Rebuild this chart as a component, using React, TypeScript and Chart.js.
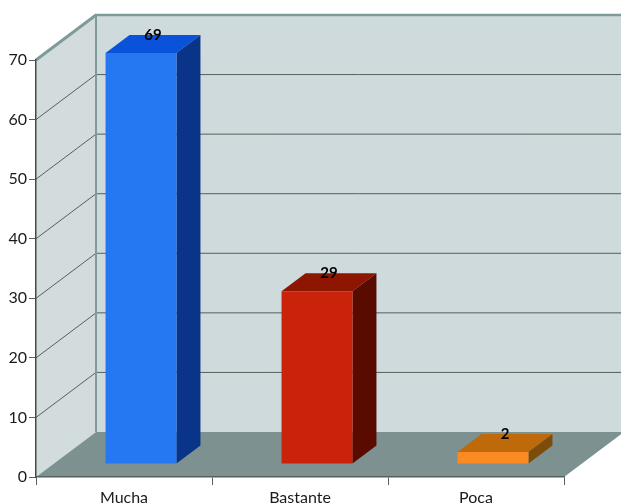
import React, { useEffect, useRef } from "react";
import { Chart, registerables } from "chart.js";

Chart.register(...registerables);

const categories = ["Mucha", "Bastante", "Poca"];
const values = [69, 29, 2];
const frontColors = ["#2577f2", "#c9230b", "#fb8a22"];
const topColors = ["#0a52da", "#8e1600", "#bf6a0a"];
const sideColors = ["#0a3488", "#5a0b00", "#7c4c08"];
const yTicks = [0, 10, 20, 30, 40, 50, 60, 70];

// Projection of the box: how far the back wall and the bars are pushed by depth.
const WALL_DX = 60;
const WALL_DY = 45;
const BAR_SHIFT_X = 17;
const BAR_SHIFT_Y = 13;
const BAR_DX = 24;
const BAR_DY = 18;

const WALL = "#cfdadc";
const SIDE_WALL = "#d3dcdc";
const FLOOR = "#7d9190";
const EDGE = "#7f9b99";
const GRID = "#555f5e";

function poly(ctx: CanvasRenderingContext2D, pts: number[][], fill: string) {
  ctx.beginPath();
  pts.forEach(([x, y], i) => (i ? ctx.lineTo(x, y) : ctx.moveTo(x, y)));
  ctx.closePath();
  ctx.fillStyle = fill;
  ctx.fill();
}

function line(ctx: CanvasRenderingContext2D, x0: number, y0: number, x1: number, y1: number, color: string, w: number) {
  ctx.beginPath();
  ctx.moveTo(x0, y0);
  ctx.lineTo(x1, y1);
  ctx.strokeStyle = color;
  ctx.lineWidth = w;
  ctx.stroke();
}

const box3d = {
  id: "box3d",
  // Side wall, back wall and floor, sitting behind the axes.
  beforeDraw(chart: any) {
    const { ctx, width, chartArea: a, scales } = chart;
    const y = scales.y;
    const y0 = y.getPixelForValue(0);
    const yMax = y.getPixelForValue(70);
    const bx = a.left + WALL_DX;
    ctx.save();
    poly(ctx, [[a.left, yMax], [bx, yMax - WALL_DY], [bx, y0 - WALL_DY], [a.left, y0]], SIDE_WALL);
    poly(ctx, [[bx, yMax - WALL_DY], [width, yMax - WALL_DY], [width, y0 - WALL_DY], [bx, y0 - WALL_DY]], WALL);
    poly(ctx, [[a.left, y0], [a.right, y0], [a.right + WALL_DX, y0 - WALL_DY], [bx, y0 - WALL_DY]], FLOOR);
    for (const v of yTicks) {
      if (v === 0 || v === 70) continue;
      const p = y.getPixelForValue(v);
      line(ctx, a.left, p, bx, p - WALL_DY, GRID, 1);
      line(ctx, bx, p - WALL_DY, width, p - WALL_DY, GRID, 1);
    }
    line(ctx, a.left, yMax, bx, yMax - WALL_DY, EDGE, 3);
    line(ctx, bx - 1, yMax - WALL_DY, width, yMax - WALL_DY, EDGE, 2.5);
    line(ctx, bx, yMax - WALL_DY, bx, y0 - WALL_DY, EDGE, 2);
    ctx.restore();
  },
  // Top and side faces of each bar; the front face is the library's own bar, moved into the box.
  beforeDatasetDraw(chart: any, args: any) {
    const { ctx } = chart;
    ctx.save();
    ctx.translate(BAR_SHIFT_X, -BAR_SHIFT_Y);
    args.meta.data.forEach((bar: any, i: number) => {
      const l = bar.x - bar.width / 2;
      const r = bar.x + bar.width / 2;
      poly(ctx, [[l, bar.y], [l + BAR_DX, bar.y - BAR_DY], [r + BAR_DX, bar.y - BAR_DY], [r, bar.y]], topColors[i]);
      poly(ctx, [[r, bar.y], [r + BAR_DX, bar.y - BAR_DY], [r + BAR_DX, bar.base - BAR_DY], [r, bar.base]], sideColors[i]);
    });
  },
  afterDatasetDraw(chart: any) {
    chart.ctx.restore();
  },
  afterDatasetsDraw(chart: any) {
    const { ctx } = chart;
    const meta = chart.getDatasetMeta(0);
    ctx.save();
    ctx.font = "bold 15px Lato";
    ctx.fillStyle = "#000";
    ctx.textAlign = "center";
    ctx.textBaseline = "middle";
    meta.data.forEach((bar: any, i: number) => {
      ctx.fillText(String(values[i]), bar.x + BAR_SHIFT_X + BAR_DX / 2, bar.y - BAR_SHIFT_Y - BAR_DY);
    });
    ctx.restore();
  },
};

export default function App() {
  const ref = useRef<HTMLCanvasElement>(null);

  useEffect(() => {
    document.body.style.margin = "0";
    const chart = new Chart(ref.current!, {
      type: "bar",
      data: {
        labels: categories,
        datasets: [
          {
            data: values,
            backgroundColor: frontColors,
            borderWidth: 0,
            categoryPercentage: 1,
            barPercentage: 0.403,
            clip: false,
          } as any,
        ],
      },
      options: {
        responsive: false,
        animation: false,
        layout: { padding: { top: 60, right: 57, left: 0, bottom: 0 } },
        plugins: { legend: { display: false }, title: { display: false }, tooltip: { enabled: false } },
        scales: {
          x: {
            afterFit: (s: any) => {
              s.height = 27;
            },
            grid: { drawOnChartArea: false, tickLength: 8, color: "#55605f" },
            border: { color: "#55605f", width: 1.5 },
            ticks: { font: { family: "Lato", size: 16 }, color: "#1a1a1a", padding: 3, maxRotation: 0 },
          },
          y: {
            min: 0,
            max: 70,
            afterFit: (s: any) => {
              s.width = 36;
            },
            grid: { drawOnChartArea: false, tickLength: 7, color: "#55605f" },
            border: { color: "#3f4a49", width: 1.5 },
            ticks: { stepSize: 10, font: { family: "Lato", size: 16 }, color: "#1a1a1a", padding: 2 },
          },
        },
      },
      plugins: [box3d],
    } as any);
    return () => chart.destroy();
  }, []);

  return <canvas ref={ref} width={621} height={504} style={{ display: "block" }} />;
}
